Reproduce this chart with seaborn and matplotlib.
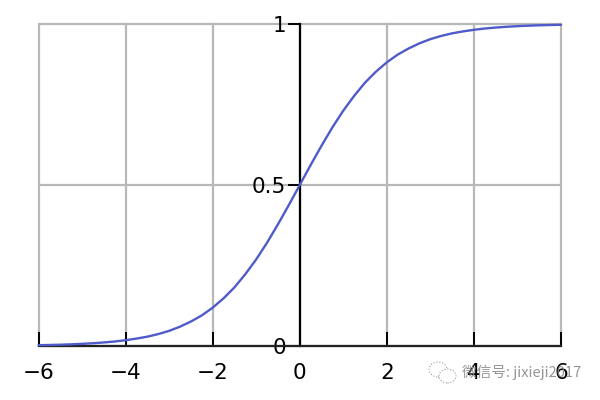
import numpy as np
import pandas as pd
import seaborn as sns
import matplotlib.pyplot as plt
from matplotlib.patches import Ellipse

# values
x_vals = [-6, -5.75, -5.5, -5.25, -5, -4.75, -4.5, -4.25, -4, -3.75, -3.5, -3.25, -3, -2.75, -2.5, -2.25,
          -2, -1.75, -1.5, -1.25, -1, -0.75, -0.5, -0.25, 0, 0.25, 0.5, 0.75, 1, 1.25, 1.5, 1.75,
          2, 2.25, 2.5, 2.75, 3, 3.25, 3.5, 3.75, 4, 4.25, 4.5, 4.75, 5, 5.25, 5.5, 5.75, 6]
y_vals = [0.0025, 0.0032, 0.004, 0.0052, 0.0067, 0.0086, 0.011, 0.014, 0.018, 0.023, 0.029, 0.037, 0.047,
          0.060, 0.076, 0.095, 0.119, 0.148, 0.182, 0.223, 0.269, 0.321, 0.378, 0.438, 0.5, 0.562, 0.622,
          0.679, 0.731, 0.777, 0.818, 0.852, 0.881, 0.905, 0.924, 0.940, 0.953, 0.963, 0.971, 0.977, 0.982,
          0.986, 0.989, 0.9914, 0.9933, 0.9948, 0.996, 0.9968, 0.9975]
x_ticks = [-6, -4, -2, 0, 2, 4, 6]
x_labels = ['\u22126', '\u22124', '\u22122', '0', '2', '4', '6']
y_ticks = [0, 0.5, 1]
y_labels = ['0', '0.5', '1']

sns.set_theme(style='white')
plt.rcParams['font.family'] = ['DejaVu Sans', 'Noto Sans CJK SC']

df = pd.DataFrame({'x': x_vals, 'y': y_vals})

fig = plt.figure(figsize=(6, 4), dpi=100)
ax = fig.add_axes([38.5 / 600, 54 / 400, 522.5 / 600, 322 / 400])

# grid lines first, axes on top
ax.set_axisbelow(True)
ax.grid(True, color='#b8b8b8', linewidth=1.6)
ax.set_xlim(-6, 6)
ax.set_ylim(0, 1)

sns.lineplot(data=df, x='x', y='y', color='#4f5bc9', linewidth=1.7, ax=ax, zorder=5, clip_on=False)

ax.spines['top'].set_visible(False)
ax.spines['right'].set_visible(False)
ax.spines['left'].set_position(('data', 0))
ax.spines['left'].set_linewidth(1.6)
ax.spines['left'].set_color('black')
ax.spines['bottom'].set_linewidth(1.6)
ax.spines['bottom'].set_color('#222222')

ax.set_xticks(x_ticks)
ax.set_xticklabels(x_labels)
ax.set_yticks(y_ticks)
ax.set_yticklabels(y_labels)
ax.tick_params(axis='x', direction='in', length=10, width=1.4, color='black', labelsize=15.5,
               labelcolor='black', pad=12.5, bottom=True)
ax.tick_params(axis='y', direction='out', length=9, width=1.4, color='black', labelsize=15.5,
               labelcolor='black', pad=1, left=True)
for g in ax.get_xgridlines() + ax.get_ygridlines():
    g.set_clip_on(False)
ax.set_xlabel('')
ax.set_ylabel('')

# watermark sits over the tick labels
fig.text(462 / 600, 1 - 372 / 400, '微信号: jixieji2017', fontsize=10.5, color='#8a8a8a', alpha=0.9,
         va='center', ha='left', family=['Noto Sans CJK SC', 'DejaVu Sans'], zorder=10)
w = fig.bbox.width
h = fig.bbox.height
for cx, cy, ew, eh in [(438, 369.5, 18, 15), (447.5, 376, 17, 14)]:
    fig.add_artist(Ellipse((cx / w, 1 - cy / h), ew / w, eh / h, transform=fig.transFigure,
                           facecolor='white', edgecolor='#9a9a9a', linewidth=0.8, linestyle=':', zorder=10))

fig.savefig('out.png', dpi=100, facecolor='white')
